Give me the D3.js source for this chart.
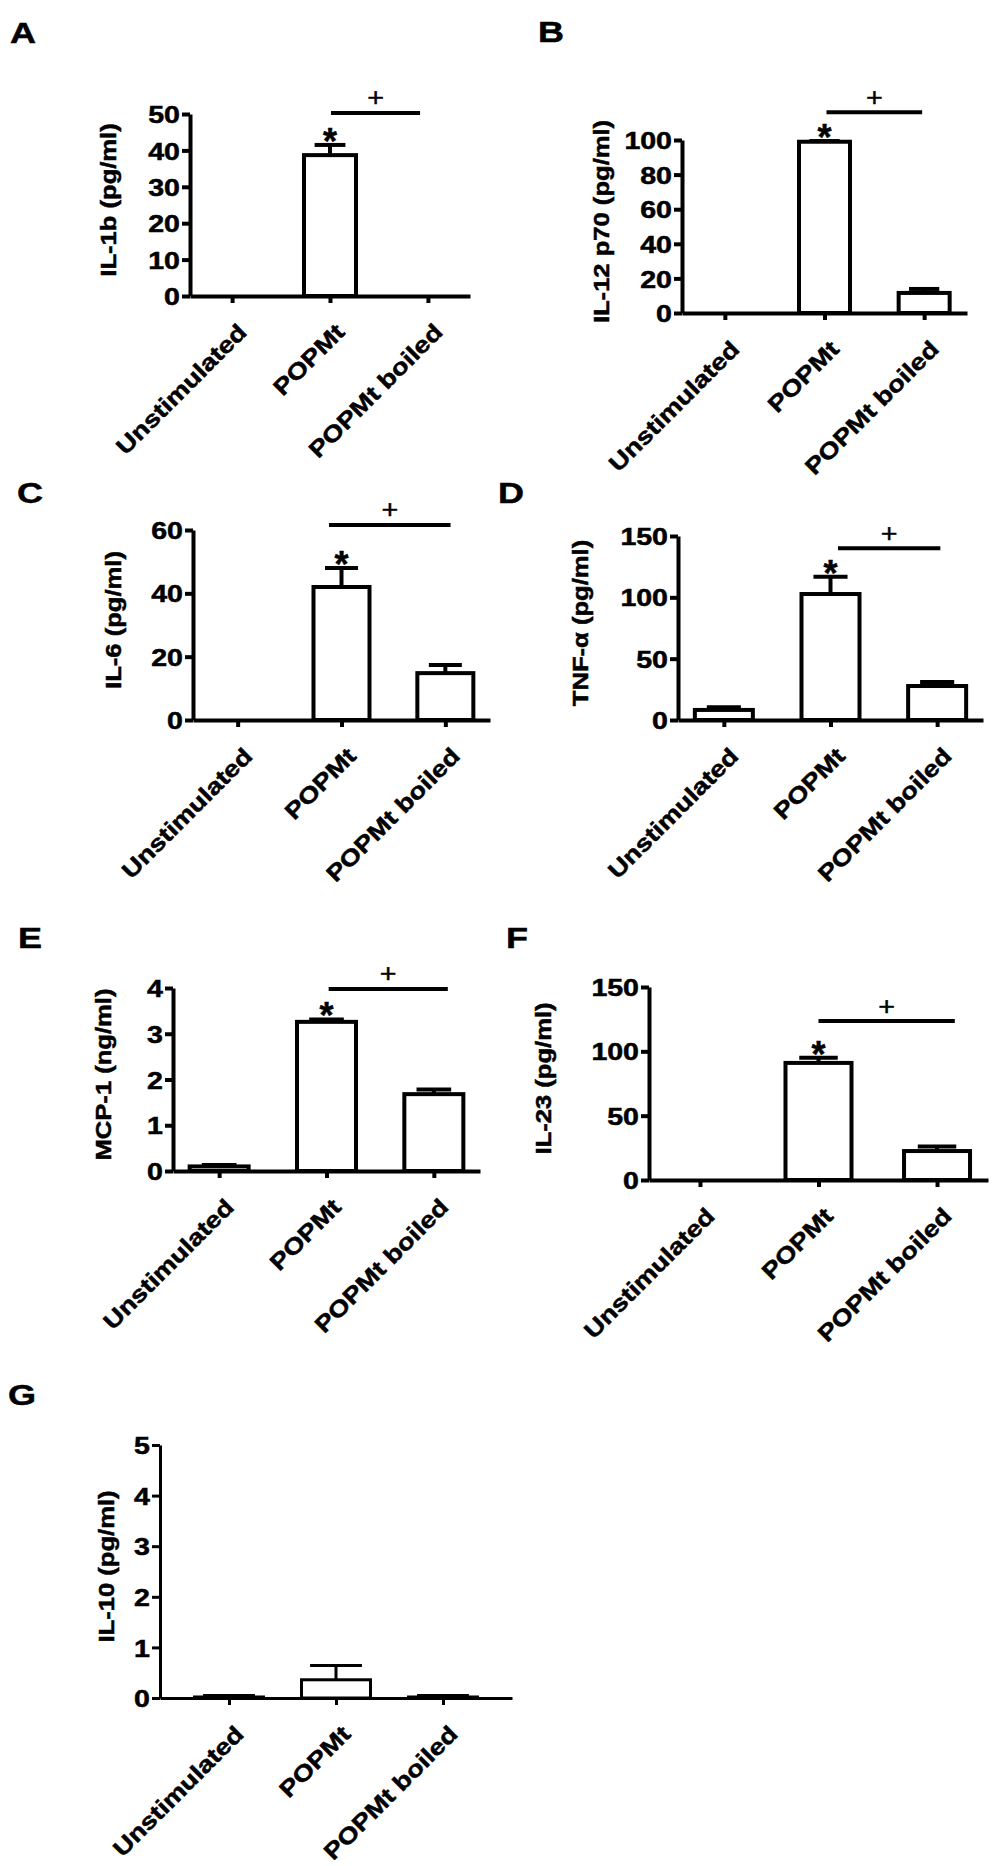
<!DOCTYPE html>
<html>
<head>
<meta charset="utf-8">
<script src="https://cdn.jsdelivr.net/npm/d3@7"></script>
<style>
body { margin:0; background:#fff; }
svg text { font-family: Arial, "Liberation Sans", Helvetica, sans-serif; fill:#000; }
svg text.heavy { font-weight:bold; stroke:#000; stroke-width:0.5px; }
</style>
</head>
<body>
<div class="figure"></div>
<script>
// ---------- data ----------
let categories = ['Unstimulated', 'POPMt', 'POPMt boiled'];

let il1b    = [0, 38.7, 0];
let il1bErr = [0, 2.8, 0];
let il12    = [0, 99, 11.6];
let il12Err = [0, 0.4, 2.3];
let il6     = [0, 42, 14.8];
let il6Err  = [0, 6, 2.6];
let tnf     = [8.2, 102.7, 27.7];
let tnfErr  = [2.2, 14, 3.3];
let mcp1    = [0.1, 3.26, 1.68];
let mcp1Err = [0.03, 0.05, 0.1];
let il23    = [0, 91, 22.5];
let il23Err = [0, 4, 3.5];
let il10    = [0.02, 0.36, 0.02];
let il10Err = [0.03, 0.28, 0.03];

let letters = ['A', 'B', 'C', 'D', 'E', 'F', 'G'];
let yTitles = ['IL-1b (pg/ml)', 'IL-12 p70 (pg/ml)', 'IL-6 (pg/ml)', 'TNF-\u03b1 (pg/ml)',
               'MCP-1 (ng/ml)', 'IL-23 (pg/ml)', 'IL-10 (pg/ml)'];
let yMax = [50, 100, 60, 150, 4, 150, 5];
let yTicks = [
  [0, 10, 20, 30, 40, 50],
  [0, 20, 40, 60, 80, 100],
  [0, 20, 40, 60],
  [0, 50, 100, 150],
  [0, 1, 2, 3, 4],
  [0, 50, 100, 150],
  [0, 1, 2, 3, 4, 5]
];
// "*" above POPMt, "+" bar between POPMt and boiled
let starOn = [1, 1, 1, 1, 1, 1, null];
let sigSpans = [[1.01, 1.92], [1.02, 1.98], [0.88, 2.05], [1.07, 2.03], [1.02, 2.13], [1.0, 2.15], null];
let sigLevels = [50.3, 116, 61.6, 140, 3.98, 123.5, null];   // height of the "+" bar, in axis units

let seriesValues = [il1b, il12, il6, tnf, mcp1, il23, il10];
let seriesErrors = [il1bErr, il12Err, il6Err, tnfErr, mcp1Err, il23Err, il10Err];

// ---------- layout (pixels) ----------
let layout = [
  {x0:190, x1:470, yTop:114, yBot:296,  lx:10,  ly:43,   tOff:80,  bw:56},
  {x0:682, x1:967, yTop:140, yBot:313,  lx:538, ly:42,   tOff:79,  bw:55},
  {x0:193, x1:490, yTop:530, yBot:720,  lx:17,  ly:503,  tOff:78,  bw:60},
  {x0:678, x1:983, yTop:536, yBot:720,  lx:498, ly:503,  tOff:96,  bw:62},
  {x0:173, x1:480, yTop:988, yBot:1171, lx:18,  ly:948,  tOff:68,  bw:63},
  {x0:649, x1:988, yTop:987, yBot:1180, lx:506, ly:948,  tOff:104, bw:70},
  {x0:160, x1:512, yTop:1445, yBot:1698, lx:8,  ly:1405, tOff:52,  bw:72, pad:0.645, sw:3, cap:0.72}
];

let wide = 1.19;   // the original lettering is wider than Arial

let svg = d3.select('.figure')
  .append('svg')
  .attr('width', 1000)
  .attr('height', 1866);

layout.forEach(function(L, i){
  let sw = L.sw || 4;
  let values = seriesValues[i];
  let errs = seriesErrors[i];
  let g = svg.append('g').attr('class', 'panel');

  let x = d3.scalePoint()
    .domain(categories)
    .range([L.x0, L.x1])
    .padding(L.pad || 0.43);
  let xi = d3.scaleLinear()
    .domain([0, categories.length - 1])
    .range([x(categories[0]), x(categories[categories.length - 1])]);
  let y = d3.scaleLinear()
    .domain([0, yMax[i]])
    .range([L.yBot, L.yTop]);

  // panel letter
  g.append('text')
    .attr('class', 'heavy')
    .attr('transform', 'translate(' + L.lx + ',' + L.ly + ') scale(1.2,1)')
    .attr('font-size', '30px')
    .text(letters[i]);

  // bars
  let data = categories.map(function(c, k){ return {cat:c, v:values[k], e:errs[k]}; });
  let bw = L.bw - sw;
  g.selectAll('rect.bar')
    .data(data)
    .enter()
    .append('rect')
      .attr('class', 'bar')
      .attr('x', function(d){ return x(d.cat) - bw / 2; })
      .attr('y', function(d){ return y(d.v); })
      .attr('width', bw)
      .attr('height', function(d){ return y(0) - y(d.v); })
      .attr('fill', '#fff')
      .attr('stroke', '#000')
      .attr('stroke-width', sw);

  // error bars (upper half only)
  let capW = L.bw * (L.cap || 0.55);
  let withErr = data.filter(function(d){ return d.e > 0; });
  g.selectAll('line.err')
    .data(withErr)
    .enter()
    .append('line')
      .attr('class', 'err')
      .attr('x1', function(d){ return x(d.cat); })
      .attr('x2', function(d){ return x(d.cat); })
      .attr('y1', function(d){ return y(d.v); })
      .attr('y2', function(d){ return y(d.v + d.e); })
      .attr('stroke', '#000')
      .attr('stroke-width', sw);
  g.selectAll('line.cap')
    .data(withErr)
    .enter()
    .append('line')
      .attr('class', 'cap')
      .attr('x1', function(d){ return x(d.cat) - capW / 2; })
      .attr('x2', function(d){ return x(d.cat) + capW / 2; })
      .attr('y1', function(d){ return y(d.v + d.e); })
      .attr('y2', function(d){ return y(d.v + d.e); })
      .attr('stroke', '#000')
      .attr('stroke-width', sw);

  // y axis
  let yAxis = d3.axisLeft(y)
    .tickValues(yTicks[i])
    .tickFormat(d3.format('d'))
    .tickSize(8)
    .tickSizeOuter(0);
  let yG = g.append('g')
    .attr('transform', 'translate(' + L.x0 + ',0)')
    .call(yAxis);
  yG.selectAll('path, line').attr('stroke', '#000').attr('stroke-width', sw);
  yG.selectAll('.tick text')
    .attr('class', 'heavy')
    .attr('x', 0)
    .attr('dy', '0.36em')
    .attr('transform', 'translate(-10,0) scale(' + wide + ',1)')
    .attr('font-size', '24px')
    .attr('font-family', null);

  // x axis
  let xAxis = d3.axisBottom(x).tickSize(7).tickSizeOuter(0);
  let xG = g.append('g')
    .attr('transform', 'translate(0,' + L.yBot + ')')
    .call(xAxis);
  xG.selectAll('path, line').attr('stroke', '#000').attr('stroke-width', sw);
  xG.selectAll('.tick text')
    .attr('class', 'heavy')
    .attr('x', 0)
    .attr('y', 0)
    .attr('dy', '0.71em')
    .attr('text-anchor', 'end')
    .attr('transform', 'translate(4,26) rotate(-45) scale(' + wide + ',1)')
    .attr('font-size', '23px')
    .attr('font-family', null);

  // y title
  g.append('text')
    .attr('class', 'heavy')
    .attr('transform', 'translate(' + (L.x0 - L.tOff) + ',' + ((L.yTop + L.yBot) / 2 - 5) + ') rotate(-90) scale(' + wide + ',1)')
    .attr('text-anchor', 'middle')
    .attr('dy', '0.26em')
    .attr('font-size', '21.5px')
    .text(yTitles[i]);

  // significance marks
  if (starOn[i] != null) {
    let k = starOn[i];
    let top = y(values[k] + errs[k]);
    g.append('text')
      .attr('class', 'heavy')
      .attr('x', x(categories[k]))
      .attr('y', top - 12 + 0.58 * 36)
      .attr('text-anchor', 'middle')
      .attr('font-size', '36px')
      .text('*');
  }
  if (sigSpans[i]) {
    let s = sigSpans[i];
    let lineY = y(sigLevels[i]);
    g.append('line')
      .attr('x1', xi(s[0]))
      .attr('x2', xi(s[1]))
      .attr('y1', lineY)
      .attr('y2', lineY)
      .attr('stroke', '#000')
      .attr('stroke-width', sw);
    g.append('text')
      .attr('transform', 'translate(' + ((xi(s[0]) + xi(s[1])) / 2) + ',' + (lineY - 15 + 0.34 * 25) + ') scale(1.15,1)')
      .attr('text-anchor', 'middle')
      .attr('font-size', '25px')
      .attr('stroke', '#000')
      .attr('stroke-width', 0.4)
      .text('+');
  }
});
</script>
</body>
</html>
